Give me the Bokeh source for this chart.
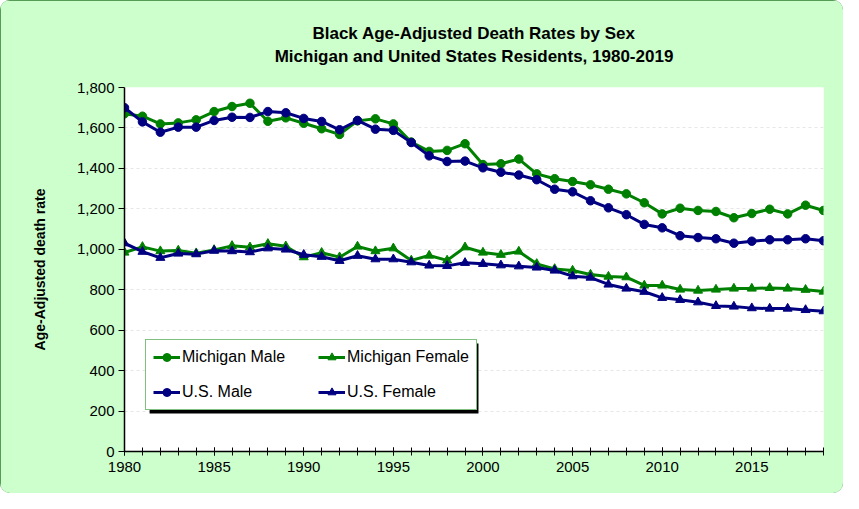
from bokeh.plotting import figure
from bokeh.models import (Legend, LegendItem, SingleIntervalTicker, NumeralTickFormatter,
                          Title, FixedTicker, Range1d, BoxAnnotation)
from bokeh.embed import file_html
from bokeh.resources import INLINE

years = list(range(1980, 2020))

mi_male = [1670, 1658, 1620, 1625, 1640, 1681, 1706, 1722, 1633, 1650,
           1623, 1596, 1568, 1635, 1645, 1620, 1530, 1484, 1489, 1522,
           1419, 1423, 1446, 1373, 1349, 1335, 1319, 1297, 1274, 1230,
           1175, 1203, 1192, 1187, 1156, 1177, 1198, 1175, 1218, 1192]
us_male = [1700, 1630, 1579, 1604, 1604, 1637, 1653, 1652, 1681, 1675,
           1647, 1632, 1591, 1637, 1594, 1588, 1528, 1462, 1434, 1436,
           1403, 1381, 1367, 1344, 1297, 1284, 1240, 1205, 1171, 1123,
           1106, 1067, 1058, 1052, 1030, 1040, 1047, 1047, 1052, 1042]
mi_female = [984, 1012, 991, 994, 981, 997, 1017, 1010, 1027, 1015,
             961, 983, 961, 1014, 991, 1005, 945, 969, 945, 1010,
             984, 973, 989, 928, 903, 895, 875, 865, 862, 821,
             821, 801, 796, 801, 806, 806, 809, 806, 800, 791]
us_female = [1030, 988, 958, 979, 976, 993, 991, 986, 1005, 999,
             973, 963, 943, 968, 951, 951, 936, 920, 918, 933,
             928, 921, 916, 910, 895, 867, 860, 826, 806, 790,
             760, 750, 738, 720, 717, 709, 707, 707, 700, 694]

title_lines = ["Black Age-Adjusted Death Rates by Sex",
               "Michigan and United States Residents, 1980-2019"]

GREEN = "#008000"
NAVY = "#000080"
FONT = "Liberation Sans"

p = figure(width=843, height=493, output_backend="svg", toolbar_location=None,
           x_range=Range1d(1980, 2019), y_range=Range1d(0, 1800),
           min_border_left=124, min_border_right=20, min_border_top=87, min_border_bottom=42,
           border_fill_color="#CCFFCC", background_fill_color="white",
           styles={"border-radius": "10px", "overflow": "hidden",
                   "box-shadow": "inset 0 0 0 2px #2f7a2f"})
p.outline_line_color = None

# series
r_mm_l = p.line(years, mi_male, line_color=GREEN, line_width=3)
r_mm_s = p.scatter(years, mi_male, marker="circle", size=8.5, color=GREEN)
r_mf_l = p.line(years, mi_female, line_color=GREEN, line_width=3)
r_mf_s = p.scatter(years, mi_female, marker="triangle", size=9, color=GREEN)
r_um_l = p.line(years, us_male, line_color=NAVY, line_width=3)
r_um_s = p.scatter(years, us_male, marker="circle", size=8.5, color=NAVY)
r_uf_l = p.line(years, us_female, line_color=NAVY, line_width=3)
r_uf_s = p.scatter(years, us_female, marker="triangle", size=9, color=NAVY)

# axes
p.xaxis.ticker = SingleIntervalTicker(interval=5, num_minor_ticks=5)
p.xaxis.major_tick_in = 4
p.xaxis.major_tick_out = 4
p.xaxis.minor_tick_in = 4
p.xaxis.minor_tick_out = 4
p.xaxis.minor_tick_line_color = "black"

p.yaxis.ticker = FixedTicker(ticks=list(range(0, 2000, 200)))
p.yaxis.formatter = NumeralTickFormatter(format="0,0")
p.yaxis.major_tick_in = 0
p.yaxis.major_tick_out = 6
p.yaxis.minor_tick_line_color = None
p.yaxis.axis_label = "Age-Adjusted death rate"
p.yaxis.axis_label_text_font = FONT
p.yaxis.axis_label_text_font_style = "bold"
p.yaxis.axis_label_text_font_size = "14px"
p.yaxis.axis_label_text_color = "black"
p.yaxis.axis_label_standoff = 26

for ax in (p.xaxis, p.yaxis):
    ax.major_label_text_font = FONT
    ax.major_label_text_font_size = "15px"
    ax.major_label_text_color = "black"
    ax.major_tick_line_color = "black"
    ax.axis_line_color = "black"
    ax.axis_line_width = 1.5
p.yaxis.major_label_standoff = 4
p.xaxis.major_label_standoff = 6

p.xgrid.grid_line_color = None
p.ygrid.grid_line_color = "#e6e6e6"
p.ygrid.grid_line_dash = "3 3"

# title: spacer nearest the plot, then second line, then first line
p.add_layout(Title(text=" ", text_font_size="1px", standoff=18), "above")
for txt in reversed(title_lines):
    p.add_layout(Title(text=txt, align="center", text_font=FONT, text_font_style="bold",
                       text_font_size="17px", text_color="black", standoff=2), "above")

# legend shadow (drawn first, sits behind the legend box)
p.add_layout(BoxAnnotation(left=1981.4, right=1999.75, bottom=188, top=534,
                           fill_color="black", fill_alpha=1, line_color=None))

legend = Legend(items=[
    LegendItem(label="Michigan Male", renderers=[r_mm_l, r_mm_s]),
    LegendItem(label="U.S. Male", renderers=[r_um_l, r_um_s]),
    LegendItem(label="Michigan Female", renderers=[r_mf_l, r_mf_s]),
    LegendItem(label="U.S. Female", renderers=[r_uf_l, r_uf_s]),
], location=(21, 41), ncols=2)
legend.label_text_font = FONT
legend.label_text_font_size = "16px"
legend.label_text_color = "black"
legend.border_line_color = GREEN
legend.border_line_width = 1.5
legend.background_fill_alpha = 1
legend.glyph_width = 27
legend.label_standoff = 2
legend.label_width = 121
legend.spacing = 15
legend.padding = 7
legend.margin = 0
p.add_layout(legend, "center")

open("out.html", "w").write(file_html(p, INLINE))
